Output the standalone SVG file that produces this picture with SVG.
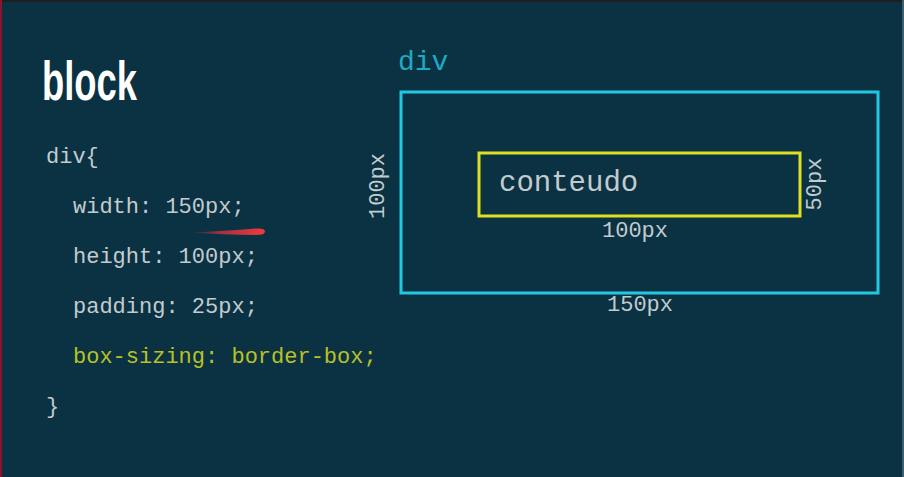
<svg xmlns="http://www.w3.org/2000/svg" width="904" height="477" viewBox="0 0 904 477">
<defs>
<style>
.code{font-family:"Liberation Mono","Courier New",monospace;font-size:22px;fill:#c3cbce}
.hl{fill:#b9c125}
.dim{font-family:"Liberation Mono","Courier New",monospace;font-size:22px;fill:#c3cbce}
</style>
<linearGradient id="redg" x1="0" y1="0" x2="1" y2="0">
<stop offset="0" stop-color="#e8303a" stop-opacity="0"/>
<stop offset="0.4" stop-color="#e8303a" stop-opacity="0.7"/>
<stop offset="1" stop-color="#f03a40"/>
</linearGradient>
</defs>
<rect x="0" y="0" width="904" height="477" fill="#0a3243"/>
<rect x="0" y="0" width="904" height="2" fill="#1c1e20"/>
<rect x="0" y="0" width="2" height="477" fill="#8a1428"/>
<rect x="902" y="0" width="2" height="477" fill="#3a6070"/>
<text x="42" y="100" font-family="Liberation Sans, Arial, sans-serif" font-size="55" font-weight="bold" fill="#ffffff" textLength="95" lengthAdjust="spacingAndGlyphs">block</text>
<g id="code">
<text class="code" x="46" y="163">div{</text>
<text class="code" x="73" y="213">width: 150px;</text>
<text class="code" x="73" y="263">height: 100px;</text>
<text class="code" x="73" y="313">padding: 25px;</text>
<text class="code hl" x="73" y="363">box-sizing: border-box;</text>
<text class="code" x="46" y="413">}</text>
</g>
<path d="M190 232.5 Q225 231 256 228.5 Q265 228 265 231.5 Q265 235 256 235 Q225 234.5 190 232.5 Z" fill="url(#redg)"/>
<g id="div">
<text x="398" y="70" font-family="Liberation Mono, Courier New, monospace" font-size="28" fill="#1faac4">div</text>
<rect x="401" y="92" width="477" height="201" fill="none" stroke="#22c8e2" stroke-width="3"/>
<text class="dim" x="607" y="311">150px</text>
<text class="dim" transform="translate(384,186) rotate(-90)" text-anchor="middle">100px</text>
</g>
<g id="conteudo">
<rect x="479" y="153" width="321" height="63" fill="none" stroke="#dede22" stroke-width="3"/>
<text x="499" y="191" font-family="Liberation Mono, Courier New, monospace" font-size="29" fill="#c3cbce">conteudo</text>
<text class="dim" x="602" y="237">100px</text>
<text class="dim" transform="translate(821,184) rotate(-90)" text-anchor="middle">50px</text>
</g>
</svg>
